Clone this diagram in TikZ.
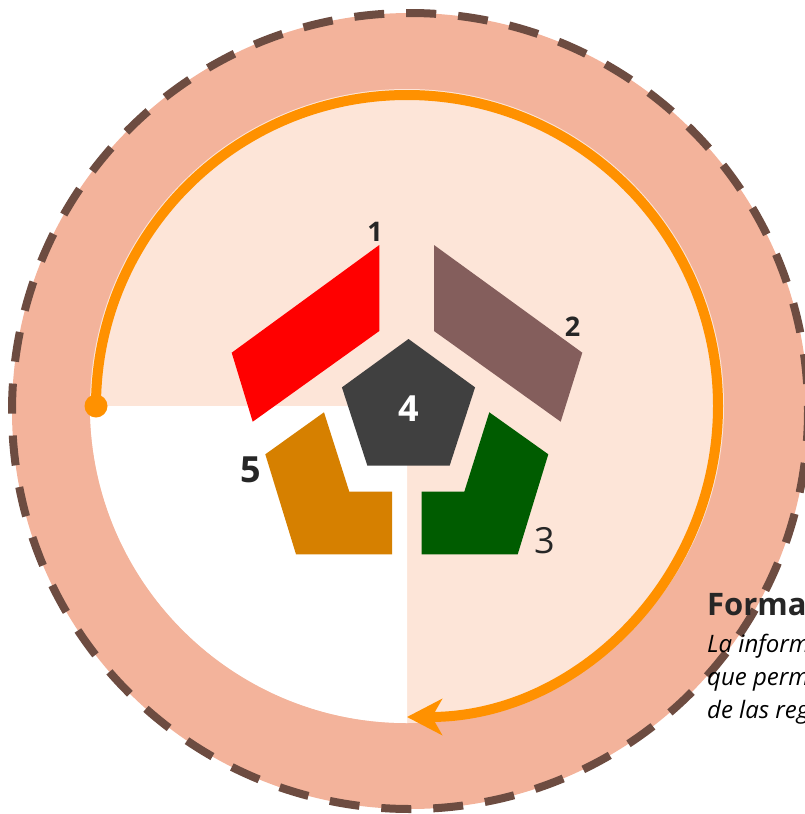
\documentclass[tikz,border=0pt]{standalone}
\usepackage{fontspec}
\setmainfont{Open Sans}
\usepackage{tikz}
\usetikzlibrary{arrows.meta,shapes.geometric}
\definecolor{salmon}{HTML}{F3B39B}
\definecolor{peach}{HTML}{FDE5D8}
\definecolor{rimbrown}{HTML}{6D4C41}
\definecolor{tangerine}{HTML}{FF9100}
\definecolor{mauve}{HTML}{845E5C}
\definecolor{forest}{HTML}{005C00}
\definecolor{amber}{HTML}{D68000}
\definecolor{slate}{HTML}{404040}
\definecolor{ink}{HTML}{262626}
\tikzset{
  segment/.style={fill=#1, draw=none},
  segment/.default=red,
  corebox/.style={
    regular polygon, regular polygon sides=5,
    fill=slate, text=white, minimum size=140pt, inner sep=0pt,
    font=\fontsize{36}{36}\selectfont\bfseries
  },
  numlabel/.style={
    text=ink, inner sep=0pt,
    font=\fontsize{#1}{#1}\selectfont\bfseries
  },
  numlabel/.default=27,
  rimline/.style={
    draw=rimbrown, line width=8pt, dash pattern=on 30pt off 22pt
  },
  cycleline/.style={
    draw=tangerine, line width=10pt,
    -{Stealth[length=35pt, width=36pt, inset=10pt]}
  },
  titletext/.style={
    anchor=base west, inner sep=0pt, text=ink,
    font=\fontsize{31}{31}\selectfont\bfseries
  },
  bodytext/.style={
    anchor=base west, inner sep=0pt, text=black,
    font=\fontsize{24}{24}\selectfont\itshape
  },
}
\begin{document}
\begin{tikzpicture}[x=1pt, y=-1pt]
\useasboundingbox (0,0) rectangle (804,814);

% ── Rings ──
\coordinate (rim) at (410,411);
\coordinate (hub) at (407,406);
\fill[salmon] (rim) circle[radius=398];
\fill[peach] (hub) circle[radius=317];
\fill[white] (hub) -- ++(-317,0) arc[start angle=180, end angle=90, radius=317] -- cycle;
\draw[rimline] (rim) circle[radius=398];

% Cycle arrow
\coordinate (arcstart) at (96,406);
\draw[cycleline] (arcstart) arc[start angle=180, end angle=450, radius=311];
\fill[tangerine] (arcstart) circle[radius=11.5];

% ── Pieces ──
\fill[segment=red] (379.3,245) -- (379.3,331) -- (252.7,421.7) -- (231.7,352.7) -- cycle;
\fill[segment=mauve] (434,245) -- (434,331) -- (560.7,421.7) -- (582.3,352.7) -- cycle;
\fill[segment=forest] (489.3,412.3) -- (548.3,454.3) -- (517.7,554.3) -- (421.7,554.3)
  -- (421.7,491.7) -- (464.3,491.7) -- cycle;
\fill[segment=amber] (324,412.3) -- (349.3,491.7) -- (392,491.7) -- (392,554.3)
  -- (296,554.3) -- (265.3,454.3) -- cycle;
\node[corebox] (core) at (408.5,409) {4};

% Numbers
\node[numlabel] (n1) at (375,231.5) {1};
\node[numlabel] (n2) at (572.5,326.5) {2};
\node[numlabel=36, font=\fontsize{36}{36}\selectfont\mdseries] (n3) at (544.5,540.5) {3};
\node[numlabel=36] (n5) at (251,470) {5};

% ── Side text ──
\node[titletext] (formtitle) at (707,615) {Forma};
\node[bodytext] (formline1) at (707,652) {La inform};
\node[bodytext] (formline2) at (707,685) {que perm};
\node[bodytext] (formline3) at (707,718) {de las reg};

\end{tikzpicture}
\end{document}
